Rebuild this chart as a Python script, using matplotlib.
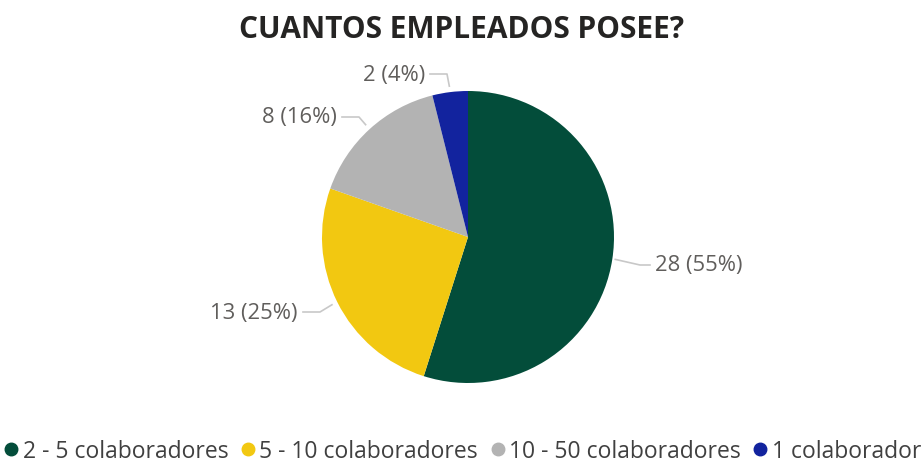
import numpy as np
import matplotlib.pyplot as plt
from matplotlib.lines import Line2D

plt.rcParams['font.family'] = ['Open Sans', 'DejaVu Sans']

categorias = ['2 - 5 colaboradores', '5 - 10 colaboradores', '10 - 50 colaboradores', '1 colaborador']
valores = [28, 13, 8, 2]
colores = ['#034D3A', '#F2C811', '#B3B3B3', '#12239E']

W, H = 923, 464
fig = plt.figure(figsize=(W / 100, H / 100), dpi=100)
ax = fig.add_axes([0, 0, 1, 1])

cx, cy, r = 468, H - 238, 146
wedges, _ = ax.pie(valores, colors=colores, startangle=90, counterclock=False,
                   center=(cx, cy), radius=r, frame=True,
                   wedgeprops=dict(linewidth=0))
ax.set_xlim(0, W)
ax.set_ylim(0, H)
ax.set_aspect('equal')
ax.axis('off')

total = sum(valores)
# label text anchor (pixel coords, y down) and side
lab_pos = [(655, 266, 'left'), (298, 313, 'right'), (337, 118, 'right'), (425, 75, 'right')]
gris = '#605E5C'
for w, v, (lx, ly, ha) in zip(wedges, valores, lab_pos):
    ang = np.deg2rad((w.theta1 + w.theta2) / 2)
    ex, ey = cx + r * np.cos(ang), cy + r * np.sin(ang)
    ly = H - ly
    pct = round(100 * v / total)
    if ha == 'left':
        tx = lx - 5
        ax.plot([ex + 3, tx - 10, tx], [ey, ly, ly], color='#C8C8C8', lw=1.2)
    else:
        tx = lx + 5
        ex2, ey2 = ex + 6 * np.cos(ang), ey + 6 * np.sin(ang)
        ax.plot([ex2, tx + 17, tx], [ey2, ly, ly], color='#C8C8C8', lw=1.2)
    ax.text(lx, ly, f'{v} ({pct}%)', ha=ha, va='center', fontsize=15.8, color=gris)

fig.text(0.5, 1 - 30 / H, 'CUANTOS EMPLEADOS POSEE?', ha='center', va='center',
         fontsize=21.5, fontweight='bold', color='#252423')

handles = [Line2D([], [], marker='o', ls='', color=c, markersize=9) for c in colores]
fig.legend(handles, categorias, loc='center left', bbox_to_anchor=(0.0, 1 - 452 / H),
           ncol=4, frameon=False, fontsize=16.5, labelcolor='#404040',
           handletextpad=0.0, columnspacing=0.35, handlelength=1.0, borderaxespad=0.0,
           borderpad=0.0)

fig.savefig('out.png', dpi=100)
